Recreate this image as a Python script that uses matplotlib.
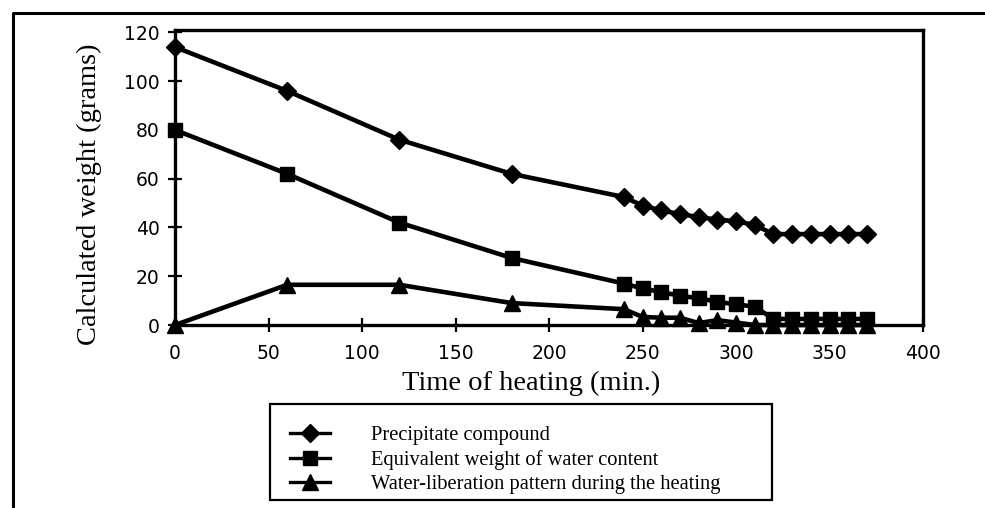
import matplotlib
matplotlib.use("Agg")
import matplotlib.pyplot as plt
from matplotlib.patches import Rectangle
from matplotlib.lines import Line2D

# ---- Data ------------------------------------------------------------
time_min = [0, 60, 120, 180, 240, 250, 260, 270, 280, 290,
            300, 310, 320, 330, 340, 350, 360, 370]
precipitate = [114, 96, 76, 62, 52.5, 49, 47, 45.5, 44.3, 43.2,
               42.6, 41, 37.3, 37.3, 37.3, 37.3, 37.3, 37.3]
water_content = [80, 62, 42, 27.5, 17, 15, 13.5, 12, 11, 9.5,
                 8.5, 7.5, 2.5, 2.5, 2.5, 2.5, 2.5, 2.5]
water_liberation = [0, 16.5, 16.5, 9, 6.5, 3.3, 3, 3, 0.8, 2,
                    1, 0, 0, 0, 0, 0, 0, 0]

series_labels = ["Precipitate compound",
                 "Equivalent weight of water content",
                 "Water-liberation pattern during the heating"]
x_ticks = [0, 50, 100, 150, 200, 250, 300, 350, 400]
y_ticks = [0, 20, 40, 60, 80, 100, 120]

SERIF = ["Liberation Serif", "DejaVu Serif"]

fig = plt.figure(figsize=(9.85, 5.08), dpi=100)
ax = fig.add_axes([0.1777, 0.3602, 0.7594, 0.5807])

common = dict(color="black", lw=3.3, clip_on=False, zorder=3)
ax.plot(time_min, precipitate, marker="D", ms=9.5, label=series_labels[0], **common)
ax.plot(time_min, water_content, marker="s", ms=10, label=series_labels[1], **common)
ax.plot(time_min, water_liberation, marker="^", ms=11, label=series_labels[2], **common)

ax.set_xlim(0, 400)
ax.set_ylim(0, 121)
ax.set_xticks(x_ticks)
ax.set_yticks(y_ticks)
ax.tick_params(direction="inout", length=10, width=1.6, labelsize=13.5,
               colors="black")
ax.tick_params(axis="x", pad=9)
ax.tick_params(axis="y", pad=6)
for lab in ax.get_xticklabels() + ax.get_yticklabels():
    lab.set_family("DejaVu Sans")

for sp in ax.spines.values():
    sp.set_linewidth(2.4)
    sp.set_color("black")

ax.set_xlabel("Time of heating (min.)", family=SERIF, fontsize=20.5)
ax.set_ylabel("Calculated weight (grams)", family=SERIF, fontsize=20.5)
ax.xaxis.set_label_coords(0.476, -0.155)
ax.yaxis.set_label_coords(-0.098, 0.444)

# ---- Legend in its own box below the plot ----------------------------
leg = fig.legend(loc="center left", bbox_to_anchor=(0.2944, 0.0945),
                 frameon=False, borderpad=0, borderaxespad=0,
                 handlelength=1.95, handletextpad=2.0, labelspacing=0.25,
                 prop={"family": SERIF, "size": 14.8})
for h in leg.legend_handles:
    h.set_linewidth(2.4)

fig.add_artist(Rectangle((0.2741, 0.0158), 0.5096, 0.189,
                         transform=fig.transFigure, fill=False,
                         edgecolor="black", lw=1.6))

# outer scan border (left and top edges only are visible)
fig.add_artist(Line2D([0.0132, 0.0132, 1.0], [0.0, 0.9744, 0.9744],
                      transform=fig.transFigure, color="black", lw=2.2))

fig.savefig("out.png", dpi=100)
